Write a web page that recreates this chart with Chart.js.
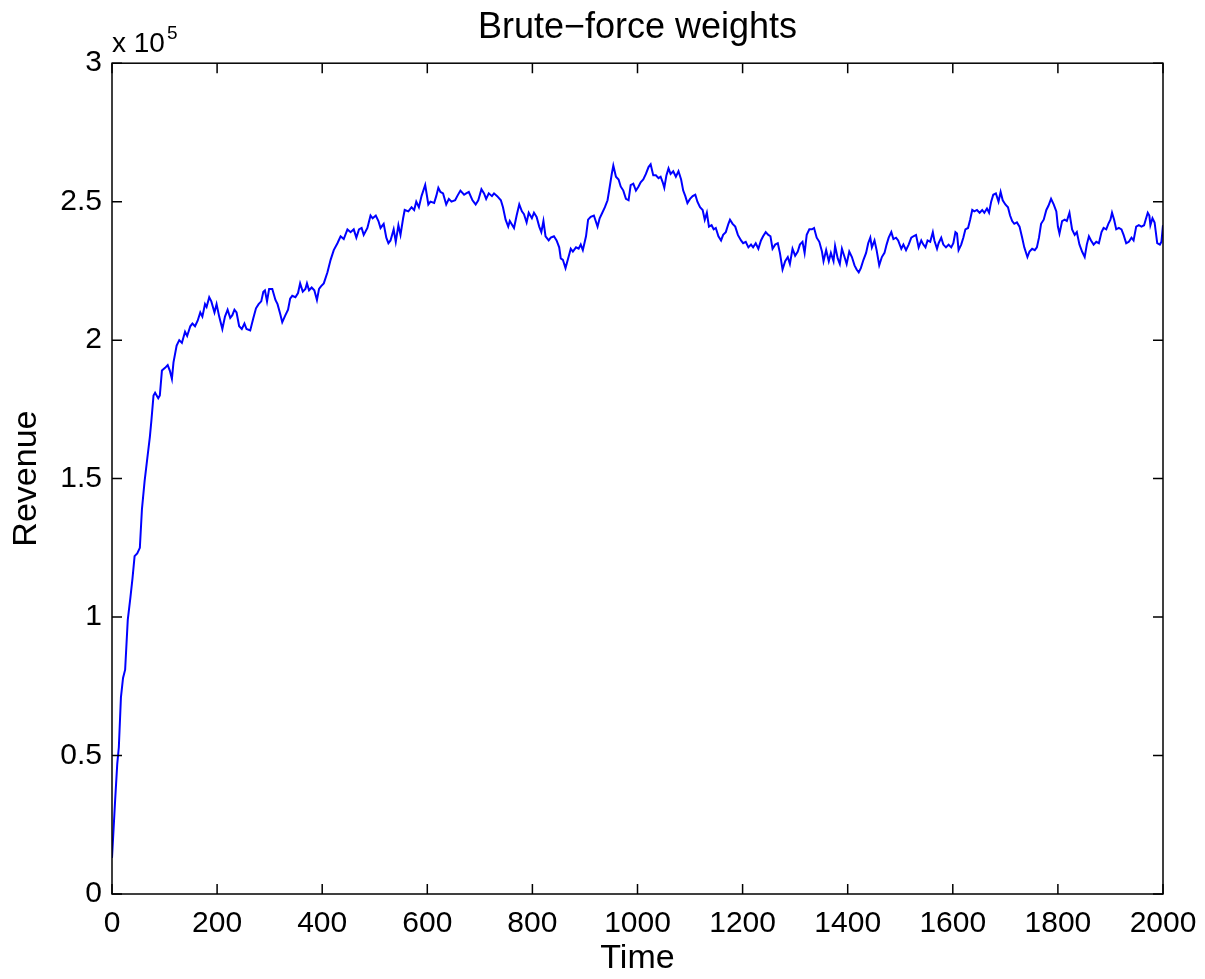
<!DOCTYPE html>
<html>
<head>
<meta charset="utf-8">
<title>Brute−force weights</title>
<script src="https://cdn.jsdelivr.net/npm/chart.js@4"></script>
<style>
  html, body { margin: 0; padding: 0; background: #fff; }
  #wrap { position: relative; width: 1205px; height: 979px; }
</style>
</head>
<body>
<div id="wrap"><canvas id="revenueChart"></canvas></div>
<script>
// Time steps of the simulation (x) and revenue in thousands (y)
const timeSteps = [
  0, 6, 10, 13, 17, 21, 25, 30, 35, 39, 43, 48,
  53, 57, 62, 67, 72, 75, 79, 82, 88, 91, 95, 101,
  106, 110, 114, 117, 123, 128, 133, 139, 143, 149, 153, 158,
  163, 168, 172, 177, 180, 185, 189, 195, 199, 204, 210, 215,
  220, 225, 229, 233, 237, 242, 247, 252, 256, 263, 269, 274,
  279, 284, 288, 291, 295, 299, 305, 311, 315, 320, 324, 330,
  335, 339, 343, 349, 354, 358, 363, 368, 371, 375, 380, 385,
  390, 394, 398, 403, 410, 416, 422, 429, 435, 441, 448, 454,
  460, 465, 470, 475, 479, 486, 492, 496, 502, 507, 511, 517,
  522, 526, 530, 536, 540, 545, 549, 554, 557, 564, 570, 575,
  579, 584, 589, 596, 602, 606, 613, 617, 621, 625, 630, 636,
  641, 646, 653, 657, 663, 670, 674, 679, 686, 692, 697, 703,
  708, 712, 717, 723, 727, 733, 740, 744, 749, 754, 757, 765,
  770, 775, 780, 784, 789, 793, 799, 803, 808, 813, 817, 821,
  825, 831, 835, 841, 846, 851, 854, 858, 863, 868, 873, 877,
  883, 888, 892, 896, 902, 906, 911, 917, 924, 928, 933, 938,
  943, 946, 951, 954, 959, 964, 968, 973, 978, 983, 987, 992,
  997, 1002, 1006, 1011, 1016, 1021, 1025, 1030, 1035, 1040, 1044, 1048,
  1051, 1055, 1059, 1063, 1068, 1073, 1078, 1083, 1087, 1091, 1095, 1100,
  1105, 1110, 1114, 1119, 1124, 1128, 1132, 1136, 1141, 1145, 1149, 1154,
  1159, 1163, 1168, 1173, 1176, 1181, 1186, 1191, 1197, 1201, 1206, 1211,
  1216, 1220, 1225, 1230, 1235, 1239, 1244, 1249, 1253, 1257, 1262, 1267,
  1271, 1276, 1281, 1286, 1290, 1295, 1300, 1305, 1309, 1314, 1318, 1322,
  1327, 1332, 1336, 1341, 1346, 1351, 1354, 1359, 1364, 1368, 1373, 1376,
  1381, 1385, 1389, 1394, 1398, 1403, 1408, 1413, 1417, 1421, 1425, 1430,
  1435, 1439, 1443, 1446, 1451, 1455, 1460, 1465, 1470, 1474, 1478, 1483,
  1487, 1492, 1496, 1502, 1506, 1511, 1516, 1521, 1525, 1530, 1535, 1540,
  1544, 1548, 1552, 1557, 1562, 1565, 1570, 1573, 1578, 1582, 1587, 1592,
  1597, 1601, 1605, 1608, 1611, 1616, 1620, 1624, 1629, 1633, 1637, 1641,
  1646, 1651, 1656, 1660, 1665, 1669, 1673, 1677, 1682, 1687, 1691, 1695,
  1700, 1705, 1709, 1713, 1717, 1722, 1727, 1732, 1736, 1742, 1746, 1751,
  1756, 1760, 1764, 1768, 1773, 1778, 1782, 1787, 1792, 1797, 1800, 1803,
  1808, 1813, 1817, 1822, 1827, 1832, 1836, 1841, 1846, 1851, 1855, 1859,
  1863, 1868, 1873, 1878, 1883, 1887, 1892, 1896, 1900, 1903, 1907, 1911,
  1916, 1921, 1925, 1930, 1935, 1940, 1944, 1949, 1954, 1959, 1964, 1967,
  1971, 1974, 1976, 1980, 1984, 1989, 1994, 1997, 2000
];

const revenueK = [
  13, 34, 47, 53, 71, 78, 81, 99, 107, 114, 122, 123,
  125, 139, 149, 157, 165, 171, 180, 181, 179, 180, 189, 190,
  191, 189, 186, 192, 198, 200, 199, 203, 201.5, 205, 206, 205,
  207, 210, 208.5, 213, 212, 215.5, 214, 210, 213, 208.5, 204, 208.5,
  211, 208, 209, 211, 210, 205, 204, 206, 204, 203.5, 208, 211.5,
  213, 214, 217.5, 218, 214, 218.5, 218.5, 214.5, 213, 209.5, 206.5, 209,
  211, 215, 216, 215.5, 217, 220.5, 217.5, 218.5, 220.5, 218, 219, 218,
  214.5, 218.5, 219.5, 220.5, 224.5, 229, 232.5, 235, 237.5, 236.5, 240, 239,
  240, 237, 240, 240.5, 238, 240.5, 245, 244, 245, 243, 240.5, 242,
  237, 235, 236, 240, 235.5, 241.5, 238, 244, 247, 246.5, 248, 247,
  250, 248, 252, 256, 249, 250, 249.5, 252, 255, 253.5, 253, 249,
  251, 250, 250.5, 252, 254, 252.5, 253, 253.5, 250.5, 249, 250.5, 254.5,
  253, 251, 253, 252, 253, 252, 250.5, 248, 243.5, 241, 243, 240.5,
  245, 249, 246.5, 245.5, 242.5, 246, 244, 246, 244.5, 241, 239, 243,
  237.5, 236, 237, 237.5, 236, 233.5, 229.5, 229, 226, 229.5, 233, 232,
  233.5, 233, 234.5, 232.5, 237.5, 243.5, 244.5, 245, 241, 244, 246, 248,
  250.5, 254, 260, 263, 259, 258, 255.5, 254, 251, 250.5, 256, 256.5,
  254, 255.5, 257, 258, 260, 262.5, 263.5, 259.5, 259.5, 258.5, 259, 257,
  255, 259.5, 262, 260, 261, 259, 261, 258, 254, 252, 249.5, 251,
  252, 252.5, 250, 248, 247, 243.5, 246, 241, 241.5, 240, 240.5, 237.5,
  236, 238, 239, 242, 243.5, 242, 241, 238, 236, 235, 235.5, 233.5,
  234.5, 233.5, 235, 233, 236, 237.5, 239, 238, 237.5, 233, 234.5, 235,
  231.5, 225.5, 228.5, 230, 227.5, 233, 230.5, 232, 234.5, 235.5, 231.5, 238,
  240, 240, 240.5, 237, 235.5, 232, 228.5, 232.5, 228.5, 231.5, 228.5, 234,
  229.5, 227.5, 233, 230, 227.5, 232, 230, 227, 225.5, 224.5, 226, 229,
  231.5, 235, 237, 233.5, 236, 232.5, 227, 230, 231.5, 234.5, 237, 239,
  236.5, 237, 236, 233, 234.5, 232.5, 234.5, 237, 237.5, 238, 233.5, 236,
  234.5, 233.5, 236, 235.5, 239, 236, 233, 235, 237, 234.5, 233.5, 234.5,
  233.5, 235, 239, 238.5, 232.5, 234.5, 237, 240, 240.5, 243.5, 247, 246.5,
  247, 246, 247, 246, 247.5, 246, 250, 252.5, 253, 250, 253.5, 250.5,
  249, 248, 245, 243, 242, 242.5, 241, 237, 233.5, 230, 232, 233,
  232.5, 233.5, 237, 242, 243.5, 247, 248.5, 251, 249, 246.5, 241, 238.5,
  243, 243.5, 243, 246, 240, 238, 239, 234.5, 232, 230, 234.5, 237.5,
  236, 234.5, 235.5, 235, 239, 240.5, 240, 242, 243.5, 246, 243.5, 240,
  240.5, 240, 238, 235, 235.5, 237, 236, 241, 241.5, 241, 241.5, 243.5,
  246, 245, 241.5, 244, 242.5, 235, 234.5, 235.5, 241.5
];

const xTickStep = 200;
const yTickStep = 50000;

const FONT = '"Liberation Sans", Arial, Helvetica, sans-serif';

// Box around the plot with inward tick marks on all four sides, plus the "x 10^5" multiplier
const axisBox = {
  id: 'axisBox',
  afterDraw(chart) {
    const { ctx, chartArea: a, scales: { x, y } } = chart;
    const len = 10;
    ctx.save();
    ctx.strokeStyle = '#000';
    ctx.lineWidth = 1.5;
    ctx.strokeRect(a.left, a.top, a.right - a.left, a.bottom - a.top);
    ctx.beginPath();
    x.ticks.forEach(t => {
      const px = x.getPixelForValue(t.value);
      ctx.moveTo(px, a.bottom); ctx.lineTo(px, a.bottom - len);
      ctx.moveTo(px, a.top); ctx.lineTo(px, a.top + len);
    });
    y.ticks.forEach(t => {
      const py = y.getPixelForValue(t.value);
      ctx.moveTo(a.left, py); ctx.lineTo(a.left + len, py);
      ctx.moveTo(a.right, py); ctx.lineTo(a.right - len, py);
    });
    ctx.stroke();

    ctx.fillStyle = '#000';
    ctx.textAlign = 'left';
    ctx.textBaseline = 'alphabetic';
    ctx.font = '28px ' + FONT;
    ctx.fillText('x 10', a.left, a.top - 11);
    const w = ctx.measureText('x 10').width;
    ctx.font = '19px ' + FONT;
    ctx.fillText('5', a.left + w + 2, a.top - 24);
    ctx.restore();
  }
};

const points = timeSteps.map((t, i) => ({ x: t, y: revenueK[i] * 1000 }));

new Chart(document.getElementById('revenueChart').getContext('2d'), {
  type: 'line',
  data: {
    datasets: [{
      label: 'Revenue',
      data: points,
      borderColor: '#0000ff',
      borderWidth: 2,
      pointRadius: 0,
      fill: false,
      tension: 0
    }]
  },
  options: {
    responsive: true,
    maintainAspectRatio: false,
    animation: false,
    devicePixelRatio: 1,
    layout: { padding: { top: 0, right: 42, bottom: 0, left: 0 } },
    plugins: {
      legend: { display: false },
      tooltip: { enabled: false },
      title: {
        display: true,
        text: 'Brute−force weights',
        fullSize: false,
        color: '#000',
        font: { family: FONT, size: 36, weight: 'normal', lineHeight: 1.2 },
        padding: { top: 6, bottom: 14 }
      }
    },
    scales: {
      x: {
        type: 'linear',
        min: 0,
        max: 2000,
        grid: { display: false },
        border: { display: false },
        afterFit(scale) { scale.height = 85; },
        ticks: {
          stepSize: xTickStep,
          autoSkip: false,
          maxRotation: 0,
          color: '#000',
          padding: 4,
          font: { family: FONT, size: 30 },
          callback: v => String(v)
        },
        title: {
          display: true,
          text: 'Time',
          color: '#000',
          font: { family: FONT, size: 34, lineHeight: 1.2 },
          padding: { top: 0, bottom: 0 }
        }
      },
      y: {
        min: 0,
        max: 300000,
        grid: { display: false },
        border: { display: false },
        afterFit(scale) { scale.width = 112; },
        ticks: {
          stepSize: yTickStep,
          autoSkip: false,
          color: '#000',
          padding: 2,
          font: { family: FONT, size: 30 },
          callback: v => String(v / 100000)
        },
        title: {
          display: true,
          text: 'Revenue',
          color: '#000',
          font: { family: FONT, size: 34, lineHeight: 1.2 },
          padding: { top: 6, bottom: 0 }
        }
      }
    }
  },
  plugins: [axisBox]
});
</script>
</body>
</html>
